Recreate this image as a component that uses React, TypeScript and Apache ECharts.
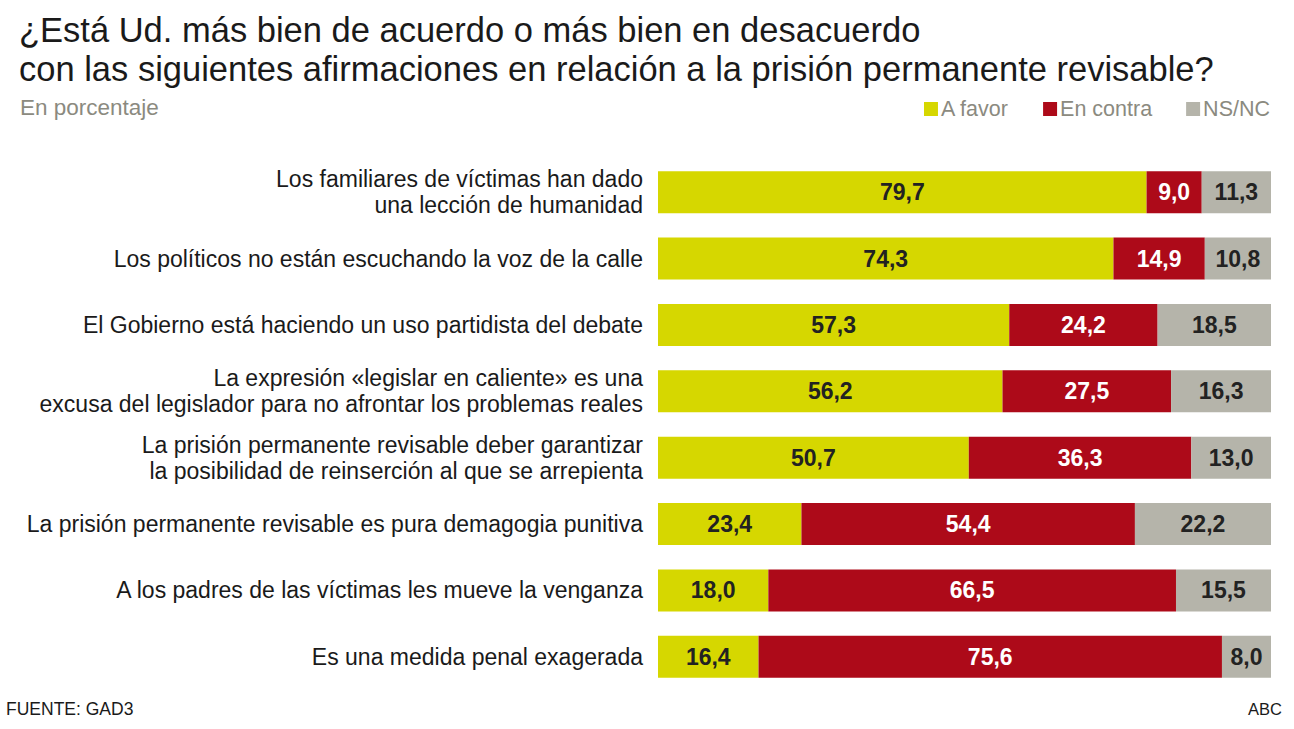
import React, { useEffect, useRef } from "react";
import * as echarts from "echarts";

const titleLines = [
  "¿Está Ud. más bien de acuerdo o más bien en desacuerdo",
  "con las siguientes afirmaciones en relación a la prisión permanente revisable?",
];
const categories = [
  "Los familiares de víctimas han dado\nuna lección de humanidad",
  "Los políticos no están escuchando la voz de la calle",
  "El Gobierno está haciendo un uso partidista del debate",
  "La expresión «legislar en caliente» es una\nexcusa del legislador para no afrontar los problemas reales",
  "La prisión permanente revisable deber garantizar\nla posibilidad de reinserción al que se arrepienta",
  "La prisión permanente revisable es pura demagogia punitiva",
  "A los padres de las víctimas les mueve la venganza",
  "Es una medida penal exagerada",
];
const aFavor = [79.7, 74.3, 57.3, 56.2, 50.7, 23.4, 18.0, 16.4];
const enContra = [9.0, 14.9, 24.2, 27.5, 36.3, 54.4, 66.5, 75.6];
const nsnc = [11.3, 10.8, 18.5, 16.3, 13.0, 22.2, 15.5, 8.0];
const seriesNames = ["A favor", "En contra", "NS/NC"];

const FONT = "'Liberation Sans', Arial, sans-serif";
const fmt = (v: number) => v.toFixed(1).replace(".", ",");

export default function App() {
  const ref = useRef<HTMLDivElement>(null);
  useEffect(() => {
    const chart = echarts.init(ref.current!, undefined, { renderer: "svg" });
    const colors = ["#d6d700", "#ad0a19", "#b5b4aa"];
    const labelColors = ["#222222", "#ffffff", "#222222"];
    const datas = [aFavor, enContra, nsnc];
    chart.setOption({
      animation: false,
      textStyle: { fontFamily: FONT },
      title: [
        ...titleLines.map((t, i) => ({
          text: t,
          left: 19,
          top: 10 + i * 39,
          padding: 0,
          textStyle: { fontFamily: FONT, fontSize: 34.5, fontWeight: "normal", color: "#1a1a1a", lineHeight: 39 },
        })),
        {
          text: "En porcentaje",
          left: 20,
          top: 96,
          padding: 0,
          textStyle: { fontFamily: FONT, fontSize: 22.5, fontWeight: "normal", color: "#8b8a80" },
        },
      ],
      legend: {
        data: seriesNames,
        right: 24,
        top: 98,
        padding: 0,
        icon: "rect",
        itemWidth: 14,
        itemHeight: 14,
        itemGap: 34,
        textStyle: { fontFamily: FONT, fontSize: 21.5, color: "#8b8a80", padding: [0, 0, 0, -2] },
      },
      grid: { left: 658, right: 23, top: 159, bottom: 39 },
      xAxis: { type: "value", min: 0, max: 100, show: false },
      yAxis: {
        type: "category",
        data: categories,
        inverse: true,
        axisLine: { show: false },
        axisTick: { show: false },
        axisLabel: {
          margin: 15,
          fontFamily: FONT,
          fontSize: 23,
          color: "#1a1a1a",
          lineHeight: 26,
          align: "right",
        },
      },
      series: datas.map((d, i) => ({
        name: seriesNames[i],
        type: "bar",
        stack: "total",
        barWidth: 42,
        itemStyle: { color: colors[i] },
        label: {
          show: true,
          position: "inside",
          formatter: (p: any) => fmt(p.value),
          fontFamily: FONT,
          fontSize: 23,
          fontWeight: "bold",
          color: labelColors[i],
        },
        data: d,
      })),
      graphic: [
        {
          type: "text",
          left: 6,
          top: 700,
          style: { text: "FUENTE: GAD3", fontFamily: FONT, fontSize: 17.5, fill: "#1a1a1a" },
        },
        {
          type: "text",
          right: 12,
          top: 700,
          style: { text: "ABC", fontFamily: FONT, fontSize: 16.5, fill: "#1a1a1a" },
        },
      ],
    });
    return () => chart.dispose();
  }, []);
  return <div ref={ref} style={{ width: 1294, height: 729, position: "absolute", left: 0, top: 0 }} />;
}
